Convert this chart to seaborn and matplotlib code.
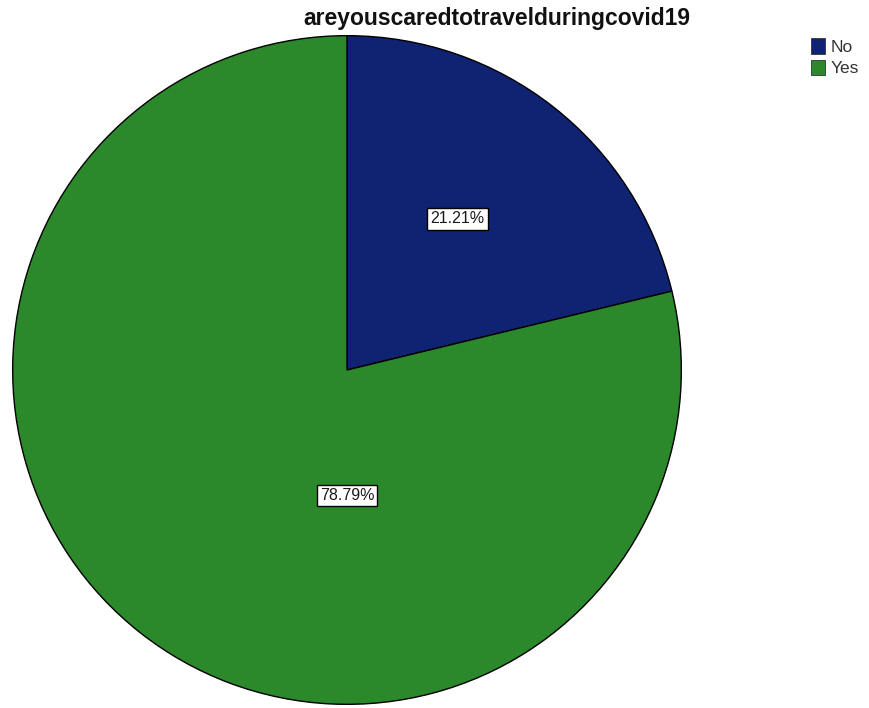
import matplotlib
matplotlib.use("Agg")
import matplotlib.pyplot as plt
from matplotlib.patches import Patch
import seaborn as sns
import numpy as np

sns.set_theme(style="white")
plt.rcParams['font.family'] = ['Liberation Sans', 'DejaVu Sans']

title = "areyouscaredtotravelduringcovid19"
categories = ["No", "Yes"]
percentages = [21.21, 78.79]
colors = ["#0f2372", "#2b892b"]

fig = plt.figure(figsize=(8.69, 7.08), dpi=100)
ax = fig.add_axes([11 / 869, 2 / 708, 672 / 869, 672 / 708])

wedges, _ = ax.pie(
    percentages,
    colors=colors,
    startangle=90,
    counterclock=False,
    radius=1.0,
    wedgeprops=dict(edgecolor="black", linewidth=1.0),
)
ax.set_xlim(-1.005, 1.005)
ax.set_ylim(-1.005, 1.005)
ax.set_aspect("equal")
ax.axis("off")

bbox = dict(boxstyle="square,pad=0.2", facecolor="white", edgecolor="black", linewidth=1.0)

# label for the small slice sits along its mid-angle
w = wedges[0]
mid = np.deg2rad((w.theta1 + w.theta2) / 2 + 2.0)
ax.text(0.56 * np.cos(mid), 0.56 * np.sin(mid), f"{percentages[0]:.2f}%",
        ha="center", va="center", fontsize=11.5, color="#1a1a1a", bbox=bbox)
# label for the large slice sits below the centre
ax.text(0.0, -0.375, f"{percentages[1]:.2f}%",
        ha="center", va="center", fontsize=11.5, color="#1a1a1a", bbox=bbox)

fig.text(497 / 869, 1 - 18 / 708, title, ha="center", va="center",
         fontsize=16.5, fontweight="bold", color="#111111")

handles = [Patch(facecolor=c, edgecolor="#333333", linewidth=0.6) for c in colors]
fig.legend(handles, categories, loc="upper left", bbox_to_anchor=(811 / 869, 1 - 38 / 708),
           frameon=False, fontsize=12.5, handlelength=0.8, handleheight=1.0,
           handletextpad=0.35, labelspacing=0.28, borderaxespad=0, borderpad=0,
           labelcolor="#333333")

fig.savefig("out.png", dpi=100, facecolor="white")
